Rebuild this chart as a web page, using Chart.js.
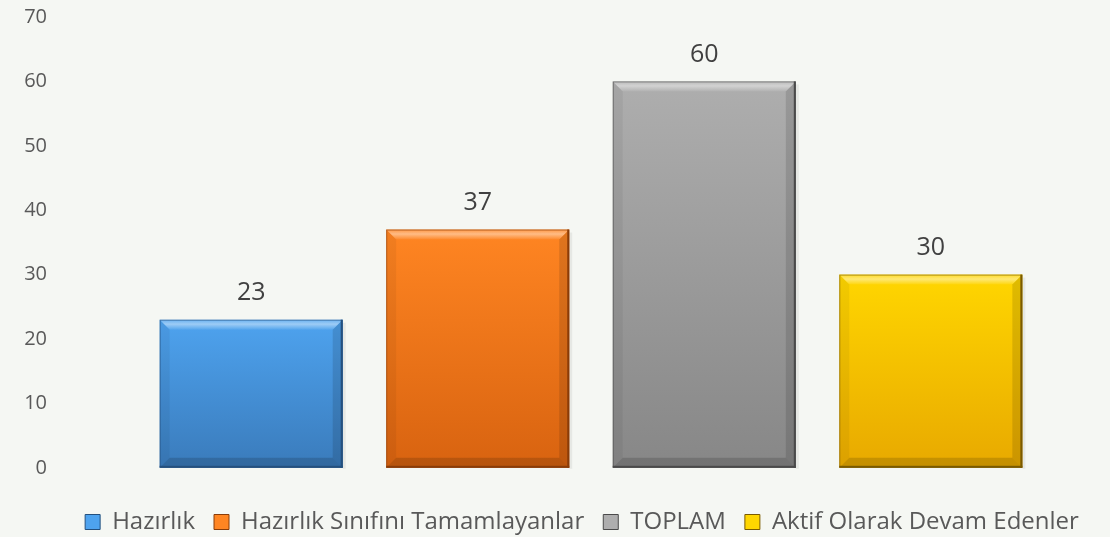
<!DOCTYPE html>
<html lang="tr">
  <head>
    <meta charset="UTF-8" />
    <title>Hazırlık</title>
    <script src="https://cdn.jsdelivr.net/npm/chart.js"></script>
    <style>
      html, body { margin: 0; padding: 0; background: #f5f7f3; }
      #wrap { width: 1110px; height: 537px; }
    </style>
  </head>
  <body>
    <div id="wrap"><canvas id="myChart" width="1110" height="537"></canvas></div>

    <script>
      const seriesNames = [
        "Hazırlık",
        "Hazırlık Sınıfını Tamamlayanlar",
        "TOPLAM",
        "Aktif Olarak Devam Edenler",
      ];
      const seriesValues = [23, 37, 60, 30];
      const topColors = ["#4ea3ef", "#ff8522", "#aeaeae", "#ffd600"];
      const bottomColors = ["#3a7bbb", "#d86310", "#878787", "#e8a900"];
      const edgeColors = ["#24507e", "#8a3c08", "#4a4a4a", "#7a5a00"];
      const yTicks = [0, 10, 20, 30, 40, 50, 60, 70];

      const font = "'Open Sans', 'Noto Sans', sans-serif";

      function barGradient(i) {
        return (context) => {
          const chart = context.chart;
          if (!chart.chartArea) return topColors[i];
          const y = chart.scales.y;
          const top = y.getPixelForValue(seriesValues[i]);
          const base = y.getPixelForValue(0);
          const g = chart.ctx.createLinearGradient(0, top, 0, base);
          g.addColorStop(0, topColors[i]);
          g.addColorStop(1, bottomColors[i]);
          return g;
        };
      }

      // bevel look on each bar, drawn over the bar elements
      const bevel = {
        id: "bevel",
        afterLayout(chart) {
          // legend sits a bit right of centre in the original
          chart.legend.left += 27;
          chart.legend.right += 27;
        },
        afterDatasetsDraw(chart) {
          const ctx = chart.ctx;
          chart.data.datasets.forEach((ds, i) => {
            const bar = chart.getDatasetMeta(i).data[0];
            const l = bar.x - bar.width / 2, r = bar.x + bar.width / 2;
            const t = bar.y, b = bar.base;
            const s = 10;
            ctx.save();
            // soft shadow on the right
            ctx.fillStyle = "rgba(0,0,0,0.06)";
            ctx.fillRect(r, t + 3, 3, b - t - 2);
            // top highlight
            const hg = ctx.createLinearGradient(0, t, 0, t + s);
            hg.addColorStop(0, "rgba(255,255,255,0.15)");
            hg.addColorStop(0.45, "rgba(255,255,255,0.45)");
            hg.addColorStop(1, "rgba(255,255,255,0.05)");
            ctx.fillStyle = hg;
            ctx.beginPath();
            ctx.moveTo(l, t); ctx.lineTo(r, t); ctx.lineTo(r - s, t + s); ctx.lineTo(l + s, t + s);
            ctx.fill();
            // left
            ctx.fillStyle = "rgba(0,0,0,0.05)";
            ctx.beginPath();
            ctx.moveTo(l, t); ctx.lineTo(l + s, t + s); ctx.lineTo(l + s, b - s); ctx.lineTo(l, b);
            ctx.fill();
            // right
            ctx.fillStyle = "rgba(0,0,0,0.12)";
            ctx.beginPath();
            ctx.moveTo(r, t); ctx.lineTo(r - s, t + s); ctx.lineTo(r - s, b - s); ctx.lineTo(r, b);
            ctx.fill();
            // bottom
            ctx.fillStyle = "rgba(0,0,0,0.15)";
            ctx.beginPath();
            ctx.moveTo(l, b); ctx.lineTo(l + s, b - s); ctx.lineTo(r - s, b - s); ctx.lineTo(r, b);
            ctx.fill();
            // outline
            ctx.strokeStyle = edgeColors[i];
            ctx.globalAlpha = 0.6;
            ctx.lineWidth = 1;
            ctx.strokeRect(l + 0.5, t + 0.5, r - l - 1, b - t - 1);
            ctx.globalAlpha = 1;
            ctx.fillStyle = edgeColors[i];
            ctx.fillRect(r - 2, t, 2, b - t);
            ctx.fillRect(l, b - 2, r - l, 2);
            // value label
            ctx.fillStyle = "#404040";
            ctx.font = "25px " + font;
            ctx.textAlign = "center";
            ctx.textBaseline = "bottom";
            ctx.fillText(String(seriesValues[i]), bar.x, t - 14);
            ctx.restore();
          });
        },
      };

      const ctx = document.getElementById("myChart").getContext("2d");
      new Chart(ctx, {
        type: "bar",
        data: {
          labels: [""],
          datasets: seriesNames.map((name, i) => ({
            label: name,
            data: [seriesValues[i]],
            backgroundColor: barGradient(i),
            barPercentage: 0.808,
            categoryPercentage: 0.873,
          })),
        },
        options: {
          responsive: false,
          animation: false,
          layout: { padding: { top: 17, right: 0, left: 0, bottom: -7 } },
          plugins: {
            tooltip: { enabled: false },
            legend: {
              position: "bottom",
              title: { display: true, text: "", font: { size: 1 }, padding: { top: 22, bottom: 0 } },
              labels: {
                font: { family: font, size: 24 },
                color: "#595959",
                boxWidth: 15,
                boxHeight: 15,
                padding: 19,
                generateLabels: (chart) =>
                  seriesNames.map((name, i) => ({
                    text: name,
                    fillStyle: topColors[i],
                    strokeStyle: edgeColors[i],
                    lineWidth: 1,
                    fontColor: "#595959",
                    datasetIndex: i,
                  })),
              },
            },
          },
          scales: {
            x: { display: false },
            y: {
              min: 0,
              max: 70,
              afterFit: (scale) => {
                scale.width = 72;
                scale.paddingTop = 0;
                scale.paddingBottom = 0;
              },
              afterBuildTicks: (scale) => { scale.ticks = yTicks.map((v) => ({ value: v })); },
              grid: { display: false, drawTicks: false },
              border: { display: false },
              ticks: {
                padding: 25,
                color: "#595959",
                font: { family: font, size: 20 },
              },
            },
          },
        },
        plugins: [bevel],
      });
    </script>
  </body>
</html>
